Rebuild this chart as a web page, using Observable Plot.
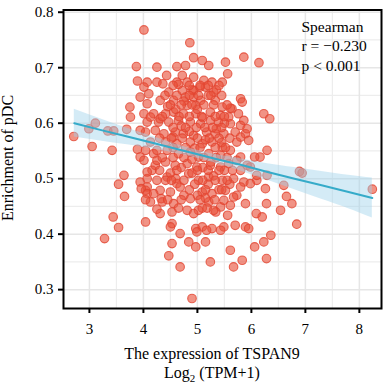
<!DOCTYPE html>
<html><head><meta charset="utf-8">
<script src="https://cdn.jsdelivr.net/npm/d3@7"></script>
<script src="https://cdn.jsdelivr.net/npm/@observablehq/plot@0.6"></script>
<style>body{margin:0;background:#fff}</style>
</head><body><div id="chart"></div>
<script>
// TSPAN9 expression (log2 TPM+1) vs pDC enrichment
const points = [
[2.71,0.576],[2.99,0.590],[3.11,0.600],[3.05,0.558],[3.34,0.586],[3.45,0.586],[3.42,0.551],[3.69,0.589],[3.75,0.629],[3.76,0.611],
[3.89,0.553],[3.94,0.539],[3.87,0.702],[3.89,0.676],[4.07,0.674],[3.94,0.647],[4.10,0.653],[4.07,0.635],[4.25,0.701],
[4.01,0.768],[4.86,0.745],[4.93,0.718],[5.09,0.713],[5.21,0.704],[5.52,0.710],[5.86,0.719],[6.14,0.709],[4.62,0.702],[4.78,0.704],
[4.43,0.686],[4.72,0.686],[4.93,0.683],[5.56,0.689],
[4.25,0.674],[4.36,0.671],[4.62,0.674],[4.81,0.674],[5.12,0.677],[5.27,0.674],[5.46,0.674],
[4.01,0.665],[4.47,0.656],[4.72,0.659],[4.93,0.659],[5.15,0.665],[5.30,0.656],
[4.31,0.641],[4.56,0.641],[4.78,0.647],[4.93,0.647],[5.06,0.641],[5.33,0.641],[5.80,0.644],[5.83,0.638],
[4.81,0.632],[4.97,0.632],[5.46,0.629],[5.64,0.626],
[4.01,0.617],[4.19,0.617],[4.41,0.617],[4.56,0.620],[4.74,0.617],[4.97,0.617],[5.24,0.620],[5.43,0.614],[5.58,0.611],[5.76,0.617],
[4.07,0.602],[4.28,0.602],[4.47,0.602],[4.65,0.605],[4.87,0.602],[5.06,0.599],[5.24,0.605],[5.39,0.602],[5.61,0.599],[5.80,0.596],
[4.04,0.584],[4.22,0.587],[4.38,0.581],[4.59,0.584],[4.74,0.581],[4.93,0.578],[5.17,0.584],[5.33,0.581],[5.49,0.581],[5.70,0.584],[5.89,0.581],
[4.13,0.566],[4.41,0.566],[4.62,0.563],[4.87,0.566],[5.09,0.563],[5.27,0.566],[5.46,0.557],[5.73,0.566],
[4.04,0.551],[4.19,0.545],[4.44,0.551],[4.65,0.545],[4.87,0.548],[5.02,0.539],[5.21,0.545],[5.43,0.542],[5.61,0.551],[5.80,0.539],
[4.01,0.533],[4.22,0.524],[4.41,0.530],[4.59,0.524],[4.81,0.527],[4.99,0.521],[5.24,0.524],[5.43,0.521],[5.58,0.527],[5.92,0.524],
[4.13,0.611],[4.31,0.608],[3.94,0.587],[4.25,0.551],[4.25,0.533],[4.16,0.515],[3.64,0.506],[3.54,0.490],[3.94,0.494],[4.07,0.485],
[4.07,0.500],[4.25,0.497],[4.44,0.503],[4.62,0.491],[4.84,0.509],[5.02,0.497],[5.21,0.503],[5.46,0.497],[5.67,0.500],[5.86,0.494],
[4.04,0.479],[4.31,0.479],[4.50,0.476],[4.68,0.485],[4.87,0.464],[5.09,0.476],[5.27,0.473],[5.52,0.479],[5.73,0.470],
[4.13,0.458],[4.35,0.458],[4.56,0.455],[5.21,0.458],[5.43,0.449],[5.61,0.452],
[4.31,0.437],[4.53,0.440],[4.81,0.443],[5.02,0.443],[5.34,0.440],[5.56,0.434],
[4.04,0.422],[4.53,0.419],[4.97,0.410],[5.09,0.413],[5.27,0.410],[5.49,0.413],[5.70,0.416],[5.89,0.413],
[4.68,0.401],[4.99,0.404],[5.17,0.407],[5.43,0.407],
[4.53,0.383],[4.84,0.386],[4.97,0.377],[5.15,0.386],[5.61,0.371],[4.47,0.361],[5.24,0.350],[5.83,0.353],[5.67,0.341],[4.68,0.341],[4.90,0.284],
[3.65,0.468],[3.44,0.431],[3.54,0.412],[3.28,0.392],[4.07,0.512],[3.96,0.482],[4.07,0.473],[4.19,0.473],[4.04,0.462],[4.25,0.445],[4.33,0.464],
[4.50,0.413],[4.41,0.497],[4.93,0.437],[5.09,0.447],
[6.89,0.513],[6.94,0.510],[6.65,0.468],[6.75,0.455],[6.54,0.443],[6.84,0.418],[6.28,0.455],[6.09,0.437],[6.20,0.431],[6.36,0.398],
[6.23,0.386],[6.06,0.377],[6.28,0.356],[5.95,0.410],
[6.26,0.482],[6.10,0.497],[5.98,0.491],[5.80,0.485],[5.67,0.467],[5.89,0.455],[5.49,0.461],[5.30,0.443],
[6.23,0.617],[6.34,0.608],[6.29,0.551],[6.16,0.539],[6.06,0.539],[5.92,0.590],[5.95,0.569],[5.80,0.575],[5.61,0.627],[5.86,0.605],
[5.73,0.533],[6.29,0.506],[6.60,0.488],[6.10,0.506],[5.98,0.521],[5.80,0.515],
[8.24,0.481],
[4.90,0.660],[5.00,0.625],[4.70,0.595],[5.10,0.610],[4.85,0.585],[5.15,0.570],[4.95,0.555],[5.35,0.590],[4.60,0.625],[5.20,0.650],
[4.75,0.640],[5.05,0.665],[4.55,0.575],[5.25,0.530],[4.90,0.535],[5.45,0.565],[5.50,0.600],[4.45,0.630],[4.65,0.670],[5.35,0.660],
[4.70,0.520],[4.90,0.510],[5.10,0.520],[5.30,0.505],[5.50,0.515],[4.50,0.510],[4.75,0.470],[5.00,0.470],[5.20,0.490],[5.40,0.480],
[4.60,0.500],[5.60,0.490],[4.95,0.490],[5.15,0.465],
[4.55,0.668],[4.85,0.668],[5.05,0.668],[5.20,0.668],[5.40,0.668],
[4.40,0.650],[4.62,0.650],[4.85,0.650],[5.02,0.650],[5.25,0.650],[5.45,0.650],
[4.50,0.633],[4.70,0.633],[4.90,0.633],[5.12,0.633],[5.30,0.633],[5.55,0.633],
[4.35,0.612],[4.66,0.612],[4.85,0.612],[5.08,0.612],[5.33,0.612],[5.50,0.612],
[4.55,0.592],[4.78,0.592],[4.98,0.592],[5.14,0.592],[5.28,0.592],[5.45,0.592],
[4.30,0.573],[4.52,0.573],[4.72,0.573],[5.00,0.573],[5.22,0.573],[5.40,0.573],[5.60,0.573],
[4.55,0.556],[4.78,0.556],[5.05,0.556],[5.33,0.556],[5.52,0.556],
[4.35,0.538],[4.55,0.538],[4.75,0.538],[5.12,0.538],[5.35,0.538],[5.55,0.538],
[4.30,0.515],[4.62,0.515],[5.00,0.515],[5.20,0.515],[5.40,0.515],[5.65,0.515],
[4.52,0.497],[4.75,0.497],[5.10,0.497],[5.33,0.497],[5.55,0.497],
[4.85,0.480],[5.15,0.480],[5.45,0.480],
[4.45,0.462],[4.70,0.462],[5.05,0.462],[5.32,0.462],
[4.65,0.447],[5.18,0.447]
];

// fitted line and 95% band, read at several x positions
const fitX  = [2.72, 3.2, 3.7, 4.2, 4.6, 5.0, 5.4, 5.8, 6.3, 6.8, 7.3, 7.8, 8.24];
const fitY  = [0.600,0.588,0.576,0.564,0.554,0.544,0.534,0.525,0.512,0.500,0.488,0.476,0.465];
const fitLo = [0.575,0.568,0.561,0.553,0.546,0.537,0.526,0.514,0.497,0.480,0.463,0.446,0.429];
const fitHi = [0.625,0.608,0.591,0.575,0.562,0.551,0.542,0.536,0.527,0.520,0.513,0.506,0.501];

const xTicks = [3,4,5,6,7,8];
const xMinor = [3.5,4.5,5.5,6.5,7.5];
const yTicks = [0.3,0.4,0.5,0.6,0.7,0.8];
const yMinor = [0.35,0.45,0.55,0.65,0.75];
const statLines = ["Spearman", "r = \u22120.230", "p < 0.001"];
const xTitle = "The expression of TSPAN9";
const yTitle = "Enrichment of pDC";

const fit = fitX.map((x, i) => ({x, y: fitY[i], lo: fitLo[i], hi: fitHi[i]}));
const font = "'Liberation Serif', 'Times New Roman', serif";

const chart = Plot.plot({
  width: 390, height: 389,
  marginLeft: 63, marginRight: 9, marginTop: 9.5, marginBottom: 81,
  x: {domain: [2.52, 8.41]},
  y: {domain: [0.266, 0.804]},
  style: {fontFamily: font, fontSize: "15px", color: "black", background: "white"},
  marks: [
    Plot.ruleX(xMinor, {stroke: "#ededed", strokeWidth: 1.2}),
    Plot.ruleY(yMinor, {stroke: "#ededed", strokeWidth: 1.2}),
    Plot.ruleX(xTicks, {stroke: "#e6e6e6", strokeWidth: 1.5}),
    Plot.ruleY(yTicks, {stroke: "#e6e6e6", strokeWidth: 1.5}),
    Plot.dot(points, {x: d => d[0], y: d => d[1], r: 4.3, fill: "#e9503a", fillOpacity: 0.62,
      stroke: "#e2432f", strokeOpacity: 0.8, strokeWidth: 1.1}),
    Plot.areaY(fit, {x: "x", y1: "lo", y2: "hi", fill: "#9fd3ea", fillOpacity: 0.45, curve: "natural"}),
    Plot.line(fit, {x: "x", y: "y", stroke: "#35abc9", strokeWidth: 2}),
    Plot.frame({stroke: "black", strokeWidth: 2}),
    Plot.axisX({ticks: xTicks, tickSize: 5, tickPadding: 10, strokeWidth: 2, label: null, fontSize: 15,
      tickFormat: d3.format("d")}),
    Plot.axisY({ticks: yTicks, tickSize: 5, tickPadding: 5, strokeWidth: 2, label: null, fontSize: 15,
      tickFormat: d3.format(".1f")}),
    Plot.text([statLines.join("\n")], {frameAnchor: "top-left", dx: 238, dy: 8, textAnchor: "start",
      lineAnchor: "top", lineHeight: 1.25, fontSize: 15.5})
  ]
});

const svg = d3.select(chart);
svg.append("text").attr("x", 212).attr("y", 358.5).attr("text-anchor", "middle")
  .attr("font-family", font).attr("font-size", 16).attr("fill", "black").text(xTitle);
const t2 = svg.append("text").attr("x", 212).attr("y", 378).attr("text-anchor", "middle")
  .attr("font-family", font).attr("font-size", 16).attr("fill", "black");
t2.append("tspan").text("Log");
t2.append("tspan").attr("font-size", 11).attr("dy", 4).text("2");
t2.append("tspan").attr("dy", -4).text(" (TPM+1)");
svg.append("text").attr("transform", "translate(13,158) rotate(-90)").attr("text-anchor", "middle")
  .attr("font-family", font).attr("font-size", 16).attr("fill", "black").text(yTitle);

document.getElementById("chart").appendChild(chart);
</script>
</body></html>
